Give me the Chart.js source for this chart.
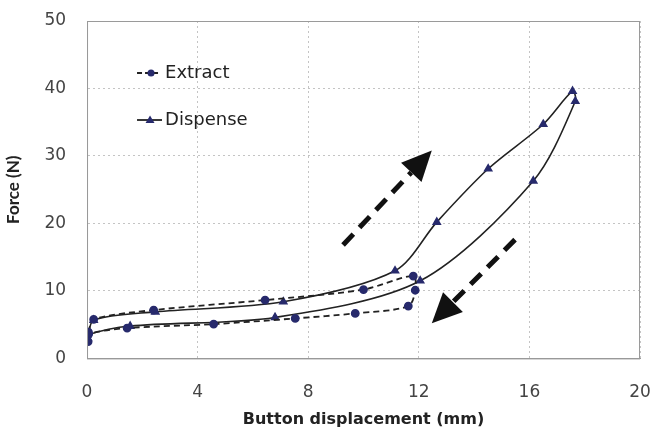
<!DOCTYPE html>
<html>
<head>
<meta charset="utf-8">
<script src="https://cdn.jsdelivr.net/npm/chart.js@4"></script>
<style>
  html, body { margin: 0; padding: 0; background: #fff; }
  #wrap { width: 654px; height: 427px; }
</style>
</head>
<body>
<div id="wrap"><canvas id="grafico"></canvas></div>
<script>
// valores (mm, N)
const extractX = [0.05, 0.24, 2.41, 6.44, 10.0, 11.8, 11.87, 11.62, 9.7, 7.53, 4.58, 1.45, 0.06, 0.04];
const extractY = [3.9, 5.78, 7.16, 8.64, 10.2, 12.2, 10.1, 7.75, 6.67, 5.93, 5.08, 4.49, 3.6, 2.5];

const dispenseX = [0.02, 0.24, 2.47, 7.1, 11.14, 12.65, 14.51, 16.5, 17.56, 17.66, 16.14, 12.05, 6.8, 1.56, 0.0, 0.0];
const dispenseY = [3.0, 5.67, 6.9, 8.39, 12.98, 20.2, 28.1, 34.7, 39.6, 38.1, 26.3, 11.5, 6.07, 4.79, 3.45, 2.7];

const xTicks = [0, 4, 8, 12, 16, 20];
const yTicks = [0, 10, 20, 30, 40, 50];

// setas: [x inicio, y inicio, x ponta, y ponta]
const arrowUp = [9.26, 16.8, 12.47, 30.8];
const arrowDown = [15.48, 17.6, 12.47, 5.2];

const corLinha = '#222222';
const corPonto = '#272a6c';
const fonte = '"DejaVu Sans", sans-serif';

function toPoints(xs, ys) {
    return xs.map((x, i) => ({ x: x, y: ys[i] }));
}

// moldura, setas e legenda desenhadas por cima
const extras = {
    id: 'extras',
    afterDatasetsDraw(chart) {
        const ctx = chart.ctx;
        const a = chart.chartArea;
        const sx = chart.scales.x, sy = chart.scales.y;

        ctx.save();
        ctx.strokeStyle = '#9a9a9a';
        ctx.lineWidth = 1;
        ctx.setLineDash([]);
        ctx.strokeRect(a.left + 0.5, a.top + 0.5, a.right - a.left - 1, a.bottom - a.top);

        [arrowUp, arrowDown].forEach(ar => {
            const x0 = sx.getPixelForValue(ar[0]), y0 = sy.getPixelForValue(ar[1]);
            const x1 = sx.getPixelForValue(ar[2]), y1 = sy.getPixelForValue(ar[3]);
            const ang = Math.atan2(y1 - y0, x1 - x0);
            const head = 30, half = 14;
            const bx = x1 - head * Math.cos(ang), by = y1 - head * Math.sin(ang);
            ctx.strokeStyle = '#111';
            ctx.lineWidth = 5;
            ctx.setLineDash([15, 9]);
            ctx.beginPath();
            ctx.moveTo(x0, y0);
            ctx.lineTo(bx, by);
            ctx.stroke();
            ctx.setLineDash([]);
            ctx.fillStyle = '#111';
            ctx.beginPath();
            ctx.moveTo(x1, y1);
            ctx.lineTo(bx + half * Math.sin(ang), by - half * Math.cos(ang));
            ctx.lineTo(bx - half * Math.sin(ang), by + half * Math.cos(ang));
            ctx.closePath();
            ctx.fill();
        });

        // legenda
        const lx = a.left + 50, ly1 = a.top + 52, ly2 = a.top + 99;
        ctx.strokeStyle = corLinha;
        ctx.lineWidth = 1.8;
        ctx.setLineDash([5, 3]);
        ctx.beginPath(); ctx.moveTo(lx, ly1); ctx.lineTo(lx + 24, ly1); ctx.stroke();
        ctx.setLineDash([]);
        ctx.beginPath(); ctx.moveTo(lx, ly2); ctx.lineTo(lx + 25, ly2); ctx.stroke();
        ctx.fillStyle = corPonto;
        ctx.beginPath(); ctx.arc(lx + 14, ly1, 3.5, 0, Math.PI * 2); ctx.fill();
        ctx.beginPath();
        ctx.moveTo(lx + 13, ly2 - 4.5); ctx.lineTo(lx + 17.5, ly2 + 3); ctx.lineTo(lx + 8.5, ly2 + 3);
        ctx.closePath(); ctx.fill();
        ctx.fillStyle = '#222';
        ctx.font = '18px ' + fonte;
        ctx.textBaseline = 'middle';
        ctx.fillText('Extract', lx + 28, ly1);
        ctx.fillText('Dispense', lx + 28, ly2);
        ctx.restore();
    }
};

new Chart(document.getElementById('grafico'), {
    type: 'scatter',
    data: {
        datasets: [{
            label: 'Extract',
            data: toPoints(extractX, extractY),
            showLine: true,
            tension: 0.3,
            borderColor: corLinha,
            borderWidth: 1.8,
            borderDash: [6, 4],
            pointStyle: 'circle',
            pointRadius: 3.5,
            pointBackgroundColor: corPonto,
            pointBorderColor: corPonto,
        }, {
            label: 'Dispense',
            data: toPoints(dispenseX, dispenseY),
            showLine: true,
            tension: 0.3,
            borderColor: corLinha,
            borderWidth: 1.6,
            pointStyle: 'triangle',
            pointRadius: 4,
            pointBackgroundColor: corPonto,
            pointBorderColor: corPonto,
        }],
    },
    options: {
        responsive: true,
        maintainAspectRatio: false,
        animation: false,
        layout: {
            padding: { left: 11, right: 14, top: 21, bottom: 0 }
        },
        plugins: {
            legend: { display: false },
            tooltip: { enabled: false },
        },
        scales: {
            x: {
                type: 'linear',
                min: 0,
                max: 20,
                afterBuildTicks: (axis) => { axis.ticks = xTicks.map(v => ({ value: v })); },
                afterFit: (axis) => { axis.paddingRight = 0; },
                ticks: { color: '#444', padding: 24, font: { family: fonte, size: 17 } },
                grid: { color: '#c4c4c4', drawTicks: false },
                border: { color: '#9a9a9a', dash: [2, 3] },
                title: {
                    display: true,
                    text: 'Button displacement (mm)',
                    color: '#222',
                    font: { family: fonte, size: 16, weight: 'bold' },
                    padding: { top: -17, bottom: -2 }
                }
            },
            y: {
                min: 0,
                max: 50,
                afterBuildTicks: (axis) => { axis.ticks = yTicks.map(v => ({ value: v })); },
                afterFit: (axis) => { axis.paddingTop = 0; },
                ticks: { color: '#444', padding: 21, font: { family: fonte, size: 17 } },
                grid: { color: '#c4c4c4', drawTicks: false },
                border: { color: '#9a9a9a', dash: [2, 3] },
                title: {
                    display: true,
                    text: 'Force (N)',
                    color: '#222',
                    font: { family: 'Lato, sans-serif', size: 17, weight: 'bold' },
                    padding: { top: -8, bottom: 0 }
                }
            }
        }
    },
    plugins: [extras]
});
</script>
</body>
</html>
